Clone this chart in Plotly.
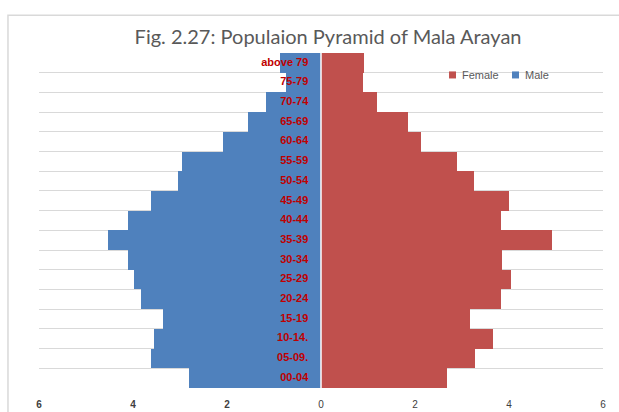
import plotly.graph_objects as go

# age groups, bottom to top
age_groups = ["00-04", "05-09.", "10-14.", "15-19", "20-24", "25-29", "30-34",
              "35-39", "40-44", "45-49", "50-54", "55-59", "60-64", "65-69",
              "70-74", "75-79", "above 79"]
male = [2.81, 3.61, 3.55, 3.36, 3.82, 3.97, 4.11, 4.53, 4.11, 3.61, 3.04, 2.96,
        2.08, 1.55, 1.18, 0.75, 0.87]
female = [2.69, 3.28, 3.66, 3.17, 3.82, 4.04, 3.85, 4.92, 3.82, 3.99, 3.25, 2.89,
          2.13, 1.86, 1.20, 0.90, 0.92]
tick_vals = [-6, -4, -2, 0, 2, 4, 6]
tick_text = ["<b>6</b>", "<b>4</b>", "<b>2</b>", "0", "2", "4", "6"]

RED = "#c0504d"
BLUE = "#4f81bd"

fig = go.Figure()
fig.add_trace(go.Bar(y=age_groups, x=female, orientation="h", name="Female",
                     marker=dict(color=RED, line=dict(width=0))))
fig.add_trace(go.Bar(y=age_groups, x=[-v for v in male], orientation="h", name="Male",
                     marker=dict(color=BLUE, line=dict(width=0))))
fig.add_trace(go.Scatter(y=age_groups, x=[-0.27] * len(age_groups), mode="text",
                         text=age_groups, textposition="middle left",
                         textfont=dict(family="Liberation Sans", size=11, color="#c00000",
                                       weight="bold"),
                         showlegend=False, hoverinfo="skip"))

# white divider at zero
fig.add_shape(type="line", x0=0, x1=0, y0=-0.5, y1=16.5, xref="x", yref="y",
              line=dict(color="white", width=1.5), layer="above")
# chart frame
fig.add_shape(type="rect", xref="paper", yref="paper", x0=-0.055, x1=1.2,
              y0=-0.3, y1=1.113, line=dict(color="#d9d9d9", width=1.5), layer="below")

# compact legend like the original (small square keys)
legend_items = [("Female", RED, 0.727), ("Male", BLUE, 0.8387)]
for name, col, lx in legend_items:
    fig.add_shape(type="rect", xref="paper", yref="paper", x0=lx, x1=lx + 0.0124,
                  y0=0.924, y1=0.945, fillcolor=col, line=dict(width=0), layer="above")
    fig.add_annotation(x=lx + 0.0195, y=0.934, xref="paper", yref="paper", text=name,
                       showarrow=False, xanchor="left", yanchor="middle",
                       font=dict(family="Liberation Sans", size=11, color="#595959"))

fig.update_layout(
    width=619, height=412,
    margin=dict(l=39, r=16, t=53, b=24, autoexpand=False),
    paper_bgcolor="white", plot_bgcolor="white",
    barmode="relative", bargap=0, showlegend=False,
    title=dict(text="Fig. 2.27: Populaion Pyramid of Mala Arayan",
               x=0.53, xanchor="center", y=0.910, yanchor="middle", automargin=False,
               font=dict(family="Lato", size=20, color="#595959")),
    font=dict(family="Liberation Sans"),
)
fig.update_xaxes(range=[-6, 6], tickvals=tick_vals, ticktext=tick_text, showgrid=False,
                 zeroline=False, showline=False, tickfont=dict(size=10, color="#404040"),
                 ticks="", automargin=False, ticklabelstandoff=9)
fig.update_yaxes(type="category", categoryorder="array", categoryarray=age_groups,
                 range=[-0.5, len(age_groups) - 0.5],
                 tickson="boundaries", showgrid=True, gridcolor="#d9d9d9", gridwidth=1,
                 showticklabels=False, ticks="", zeroline=False, showline=False,
                 automargin=False)

# drop the default 8px page margin so the figure fills the window exactly
fig.write_html("out.html", config={"displayModeBar": False},
               post_script="document.body.style.margin='0';")
